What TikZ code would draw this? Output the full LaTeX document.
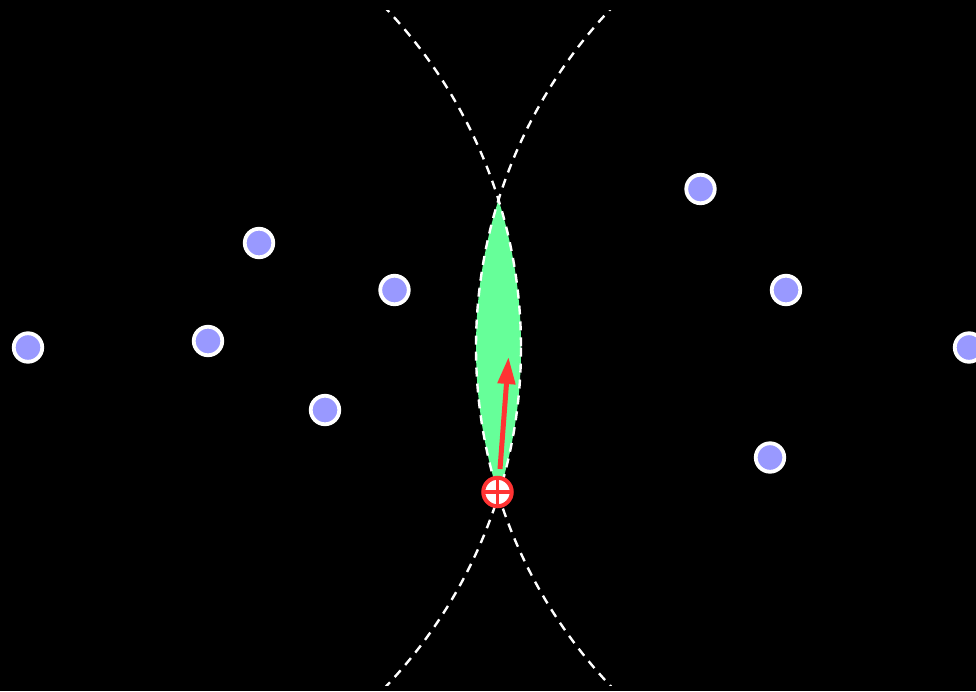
\documentclass[tikz,border=0pt]{standalone}
\usetikzlibrary{arrows.meta}
\definecolor{lensgreen}{RGB}{102,255,153}
\definecolor{dotpurple}{RGB}{153,153,255}
\definecolor{markred}{RGB}{255,51,51}
\tikzset{
  dotnode/.style={circle, fill=dotpurple, draw=white, line width=3.8pt, minimum size=28.5pt, inner sep=0pt},
  markernode/.style={circle, fill=white, draw=markred, line width=4pt, minimum size=28.5pt, inner sep=0pt},
  arcline/.style={white, line width=2.4pt, dash pattern=on 9pt off 7pt},
}
\begin{document}
\begin{tikzpicture}[x=1pt,y=-1pt]
\fill[black] (0,0) rectangle (976,691);
\useasboundingbox (0,0) rectangle (976,691);
\coordinate (CA) at (28,347.5);
\coordinate (CB) at (969,347.5);
% lens
\begin{scope}
  \clip (CA) circle (493);
  \fill[lensgreen] (CB) circle (493);
\end{scope}
% dashed arcs
\begin{scope}
  \clip (0,10) rectangle (976,685);
  \draw[arcline] (CA) circle (493);
  \draw[arcline] (CB) circle (493);
\end{scope}
% dots
\node[dotnode] (d1) at (28,347.5) {};
\node[dotnode] (d2) at (259,243) {};
\node[dotnode] (d3) at (208,341) {};
\node[dotnode] (d4) at (394.5,290) {};
\node[dotnode] (d5) at (325,410) {};
\node[dotnode] (d6) at (700.5,189) {};
\node[dotnode] (d7) at (786,290) {};
\node[dotnode] (d8) at (969,347.5) {};
\node[dotnode] (d9) at (770,457.5) {};
% arrow
\coordinate (as) at (500,469);
\coordinate (ae) at (508.5,357);
\draw[markred, line width=5pt, -{Triangle[length=27pt, width=17pt]}] (as) -- (ae);
% marker
\node[markernode] (m) at (497.5,492) {};
\draw[markred, line width=3.5pt] ([xshift=-12.5pt]m.center) -- ([xshift=12.5pt]m.center);
\draw[markred, line width=3.5pt] ([yshift=-12.5pt]m.center) -- ([yshift=12.5pt]m.center);
\end{tikzpicture}
\end{document}
